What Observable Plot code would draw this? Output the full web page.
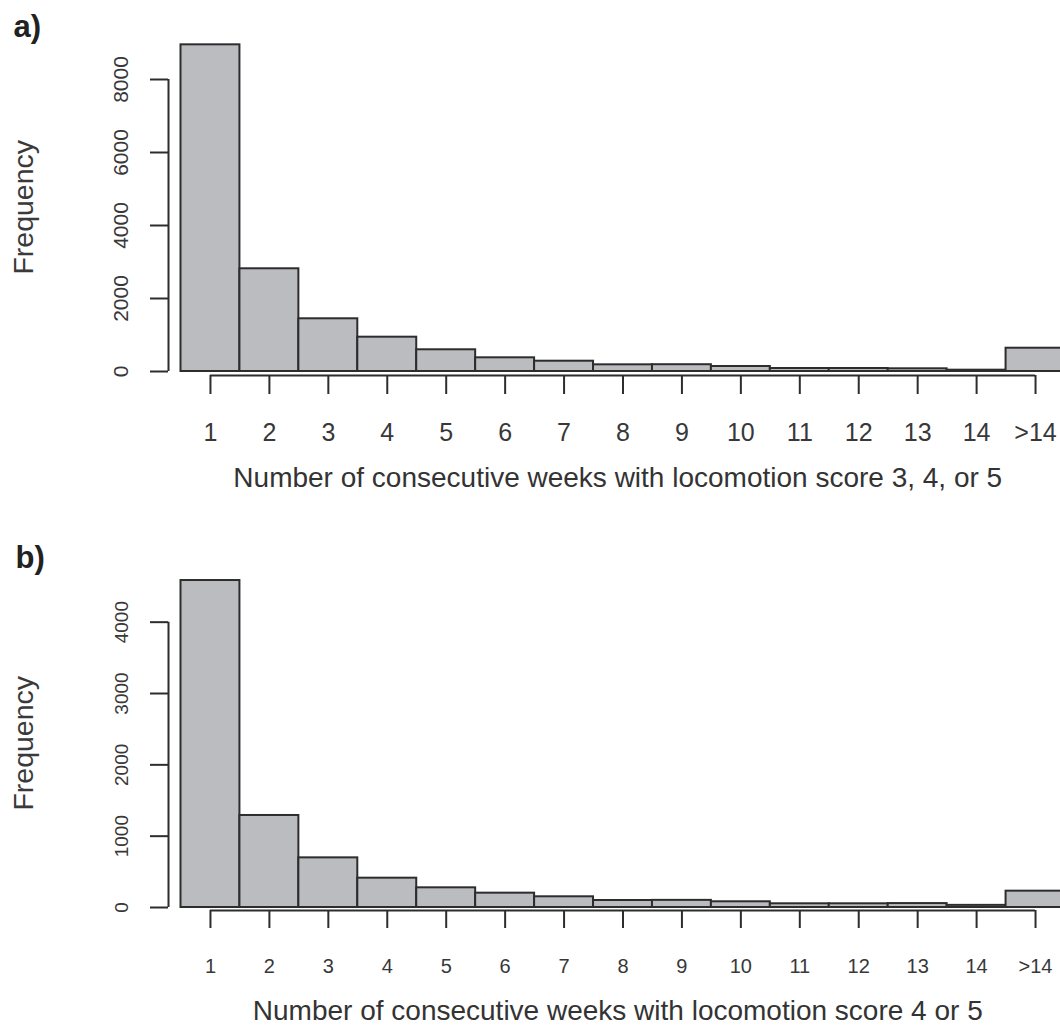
<!DOCTYPE html>
<html><head><meta charset="utf-8">
<script src="https://cdn.jsdelivr.net/npm/d3@7"></script>
<script src="https://cdn.jsdelivr.net/npm/@observablehq/plot@0.6"></script>
<style>
html,body{margin:0;padding:0;background:#fff;overflow:hidden;}
#charts svg{display:block;}
</style></head><body><div id="charts"></div>
<script>
const bins = [1,2,3,4,5,6,7,8,9,10,11,12,13,14,15];
const binLabels = ["1","2","3","4","5","6","7","8","9","10","11","12","13","14",">14"];
const freqA = [8950, 2814, 1444, 940, 595, 375, 282, 183, 186, 137, 82, 82, 74, 36, 638];
const freqB = [4584, 1290, 696, 411, 276, 201, 150, 98, 100, 80, 52, 52, 55, 30, 229];
const ticksA = [0, 2000, 4000, 6000, 8000];
const ticksB = [0, 1000, 2000, 3000, 4000];
const titleA = "Number of consecutive weeks with locomotion score 3, 4, or 5";
const titleB = "Number of consecutive weeks with locomotion score 4 or 5";

const ink = "#2d2d2d";
function hist({values, yTicks, yMax, height, title, letter, xFont, yFont, axisDy, xTickSize, xPad, titleDy, letterDx, letterDy}) {
  const data = bins.map((b, i) => ({bin: b, label: binLabels[i], value: values[i]}));
  return Plot.plot({
    width: 1060, height,
    marginLeft: 180.5, marginRight: 0, marginTop: 42.5, marginBottom: height - 371,
    style: {fontFamily: "'Liberation Sans', Arial, sans-serif", color: "#383838", background: "white"},
    x: {domain: [0.5, 15.5], range: [180.5, 1064.5]},
    y: {domain: [0, yMax], range: [371, 42.5]},
    marks: [
      Plot.rect(data, {x1: d => d.bin - 0.5, x2: d => d.bin + 0.5, y1: 0, y2: "value", fill: "#bbbcc0", stroke: ink, strokeWidth: 2}),
      Plot.axisY({ticks: yTicks, tickFormat: d => String(d), tickSize: 18, tickPadding: 23, tickRotate: -90, dx: -12.5, fontSize: yFont, label: null, stroke: ink, strokeWidth: 2}),
      Plot.ruleX([0.5], {y1: 0, y2: yTicks[yTicks.length - 1], dx: -12.5, stroke: ink, strokeWidth: 2}),
      Plot.axisX({ticks: bins, tickFormat: d => binLabels[d - 1], tickSize: xTickSize, tickPadding: xPad, dy: axisDy, fontSize: xFont, label: null, stroke: ink, strokeWidth: 2}),
      Plot.ruleY([0], {x1: bins[0], x2: bins[bins.length - 1], dy: axisDy, stroke: ink, strokeWidth: 2}),
      Plot.text([title], {frameAnchor: "bottom", lineAnchor: "top", textAnchor: "middle", dx: -3, dy: titleDy, fontSize: 28, fill: "#333"}),
      Plot.text(["Frequency"], {frameAnchor: "left", rotate: -90, lineAnchor: "bottom", textAnchor: "middle", dx: -148.5, fontSize: 28.5, fill: "#3a3a3a"}),
      Plot.text([letter], {frameAnchor: "top-left", textAnchor: "start", lineAnchor: "bottom", dx: letterDx, dy: letterDy, fontSize: 31, fontWeight: "bold", fill: "#222"})
    ]
  });
}

const root = document.getElementById("charts");
root.append(hist({values: freqA, yTicks: ticksA, yMax: (371 - 42.5) / 0.0365, height: 536, title: titleA, letter: "a)",
  xFont: 25, yFont: 21, axisDy: 4, xTickSize: 19, xPad: 29, titleDy: 96, letterDx: -167.5, letterDy: -6.5}));
root.append(hist({values: freqB, yTicks: ticksB, yMax: (371 - 42.5) / 0.07133, height: 491, title: titleB, letter: "b)",
  xFont: 20, yFont: 19, axisDy: 3, xTickSize: 18, xPad: 30, titleDy: 93, letterDx: -165.5, letterDy: -11.5}));
</script></body></html>
